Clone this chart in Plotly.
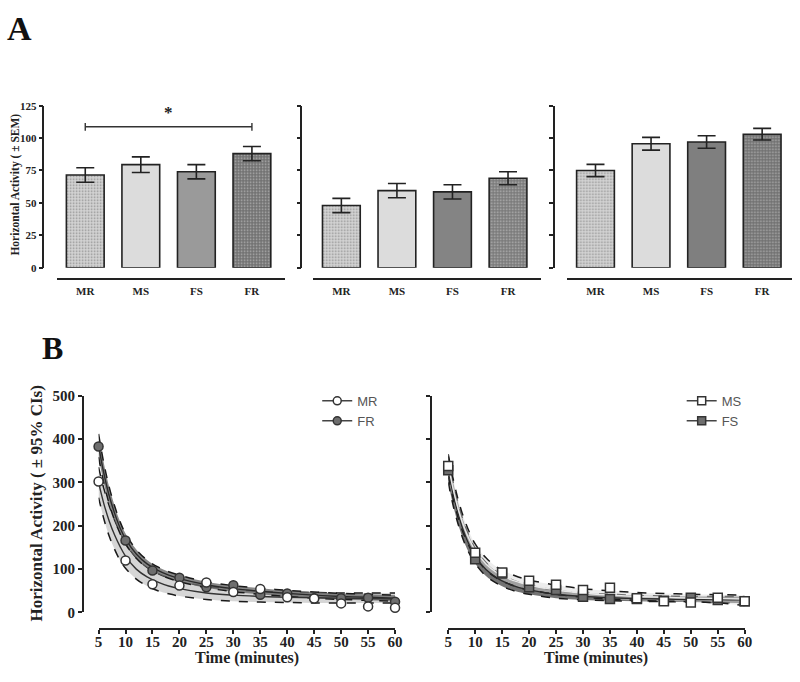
import plotly.graph_objects as go

W, H = 800, 682

# ---------------- data ----------------
groups = ["MR", "MS", "FS", "FR"]

a_left = [71.5, 79.5, 74.0, 88.0]
a_left_sem = [5.6, 6.0, 5.5, 5.5]
a_mid = [48.0, 59.5, 58.5, 69.0]
a_mid_sem = [5.5, 5.5, 5.5, 5.0]
a_right = [75.0, 95.6, 97.0, 103.0]
a_right_sem = [4.7, 4.9, 4.8, 4.5]

time_min = [5, 10, 15, 20, 25, 30, 35, 40, 45, 50, 55, 60]
mr = [302, 120, 65, 62, 69, 47, 54, 35, 32, 21, 14, 11]
fr = [383, 166, 97, 80, 58, 63, 41, 44, 33, 33, 34, 25]
ms = [338, 138, 92, 73, 64, 52, 57, 33, 26, 23, 34, 26]
fs = [328, 123, 90, 58, 52, 36, 31, 31, 27, 34, 29, 26]

fit_t = [5, 6, 7, 8, 9, 10, 12, 14, 16, 18, 20, 25, 30, 35, 40, 45, 50, 55, 60]
mr_fit = [300, 250, 210, 178, 152, 130, 100, 82, 70, 61, 55, 45, 40, 37, 35, 34, 33, 32, 31]
mr_lo = [265, 215, 175, 145, 120, 102, 77, 61, 50, 43, 38, 30, 26, 24, 23, 22, 22, 22, 22]
mr_hi = [335, 285, 245, 212, 185, 160, 126, 104, 90, 80, 72, 60, 53, 49, 47, 46, 45, 45, 45]
fr_fit = [385, 320, 268, 228, 195, 170, 135, 112, 97, 86, 78, 64, 55, 49, 44, 40, 37, 35, 33]
fr_lo = [358, 297, 249, 212, 182, 158, 125, 103, 89, 79, 71, 57, 48, 42, 37, 33, 30, 28, 26]
fr_hi = [412, 343, 288, 245, 209, 182, 145, 121, 105, 94, 86, 71, 62, 56, 51, 47, 44, 42, 40]
ms_fit = [340, 280, 232, 195, 166, 143, 112, 92, 79, 70, 63, 52, 45, 40, 37, 35, 33, 32, 31]
ms_lo = [315, 258, 212, 177, 150, 128, 98, 79, 67, 58, 52, 42, 35, 31, 28, 26, 25, 22, 16]
ms_hi = [365, 303, 253, 214, 183, 158, 126, 105, 92, 82, 75, 63, 55, 50, 46, 44, 42, 41, 40]
fs_fit = [330, 268, 220, 182, 153, 130, 99, 80, 67, 58, 52, 42, 37, 34, 32, 31, 30, 30, 29]
fs_lo = [300, 242, 197, 161, 134, 113, 84, 67, 55, 47, 42, 33, 29, 27, 26, 25, 24, 23, 21]
fs_hi = [360, 295, 244, 204, 173, 148, 115, 94, 80, 70, 63, 51, 45, 42, 39, 38, 37, 37, 37]

a_yticks = [0, 25, 50, 75, 100, 125]
b_yticks = [0, 100, 200, 300, 400, 500]
b_xticks = [5, 10, 15, 20, 25, 30, 35, 40, 45, 50, 55, 60]

# ---------------- helpers ----------------
def px(x):
    return x / W

def py(y):
    return 1 - y / H

SERIF = "Liberation Serif, Times New Roman, serif"
INK = "#222222"

fig = go.Figure()

# ---------------- Panel A ----------------
bar_colors = [
    ["#d3d3d3", "#dcdcdc", "#9a9a9a", "#717171"],
    ["#d3d3d3", "#dcdcdc", "#848484", "#7a7a7a"],
    ["#d3d3d3", "#dcdcdc", "#7f7f7f", "#717171"],
]
dot_colors = ["#c2c2c2", "#dcdcdc", "#9a9a9a", "#636363"]
panels = [(a_left, a_left_sem), (a_mid, a_mid_sem), (a_right, a_right_sem)]
first_center = [82.5, 342.5, 600.5]
spacing = 56.4
yaxis_pos = [40, 302, 558]

for i, ((vals, sem), c0) in enumerate(zip(panels, first_center)):
    n = "" if i == 0 else str(i + 1)
    fig.add_trace(go.Bar(
        x=[0, 1, 2, 3], y=vals, width=0.68,
        xaxis="x" + n, yaxis="y" + n, showlegend=False,
        marker=dict(
            color=bar_colors[i],
            line=dict(color=INK, width=1.6),
            pattern=dict(shape=[".", "", "", "."], fgcolor=dot_colors,
                         bgcolor=bar_colors[i], size=3, solidity=0.25),
        ),
        error_y=dict(type="data", array=sem, visible=True, color=INK,
                     thickness=1.6, width=9),
    ))

# significance bracket MR vs FR on left panel
fig.add_trace(go.Scatter(
    x=[0, 0, None, 0, 3, None, 3, 3],
    y=[105.7, 111.7, None, 108.7, 108.7, None, 105.7, 111.7],
    mode="lines", line=dict(color="#333333", width=1.4),
    xaxis="x", yaxis="y", showlegend=False, hoverinfo="skip",
))
fig.add_annotation(x=1.5, y=120, xref="x", yref="y", text="*", showarrow=False,
                   font=dict(family=SERIF, size=17, color=INK, weight="bold"))

layout_axes = {}
for i, c0 in enumerate(first_center):
    n = "" if i == 0 else str(i + 1)
    left = c0 - 28.5
    right = min(c0 + 3 * spacing + 33.5, 800)
    layout_axes["xaxis" + n] = dict(
        domain=[px(left), px(right)],
        range=[-28.5 / spacing, -28.5 / spacing + (right - left) / spacing],
        anchor="free", position=py(277),
        showline=True, linecolor=INK, linewidth=1.6,
        tickvals=[0, 1, 2, 3], ticktext=groups, ticks="",
        ticklabelstandoff=2,
        tickfont=dict(family=SERIF, size=11, color=INK, weight="bold"),
        showgrid=False, zeroline=False, fixedrange=True,
    )
    layout_axes["yaxis" + n] = dict(
        domain=[py(266), py(100)], range=[0, 125],
        anchor="free", position=px(yaxis_pos[i]),
        showline=True, linecolor=INK, linewidth=1.6,
        tickvals=a_yticks, ticks="outside", ticklen=4, tickwidth=1.6, tickcolor=INK,
        showticklabels=(i == 0),
        tickfont=dict(family=SERIF, size=11, color=INK, weight="bold"),
        showgrid=False, zeroline=False,
    )

# ---------------- Panel B ----------------
def band(t, lo, hi, fillcolor, xa, ya):
    fig.add_trace(go.Scatter(x=t, y=lo, mode="lines", xaxis=xa, yaxis=ya,
                             line=dict(color="#1a1a1a", width=1.5, dash="dash", shape="spline"),
                             showlegend=False, hoverinfo="skip"))
    fig.add_trace(go.Scatter(x=t, y=hi, mode="lines", xaxis=xa, yaxis=ya, fill="tonexty",
                             fillcolor=fillcolor,
                             line=dict(color="#1a1a1a", width=1.5, dash="dash", shape="spline"),
                             showlegend=False, hoverinfo="skip"))

def fitline(t, fit, color, xa, ya):
    fig.add_trace(go.Scatter(x=t, y=fit, mode="lines", xaxis=xa, yaxis=ya,
                             line=dict(color=color, width=1.4, shape="spline"),
                             showlegend=False, hoverinfo="skip"))

def points(t, y, symbol, fill, xa, ya):
    fig.add_trace(go.Scatter(x=t, y=y, mode="markers", xaxis=xa, yaxis=ya, cliponaxis=False,
                             marker=dict(symbol=symbol, size=9, color=fill,
                                         line=dict(color="#333333", width=1.5)),
                             showlegend=False))

def legend_entry(name, symbol, fill, xa, ya, leg):
    fig.add_trace(go.Scatter(x=[None], y=[None], mode="lines+markers", name=name,
                             xaxis=xa, yaxis=ya, legend=leg,
                             line=dict(color="#444444", width=1.5),
                             marker=dict(symbol=symbol, size=8, color=fill,
                                         line=dict(color="#333333", width=1.5))))

# left: MR vs FR
band(fit_t, mr_lo, mr_hi, "rgba(200,200,200,0.75)", "x4", "y4")
band(fit_t, fr_lo, fr_hi, "rgba(105,105,105,0.8)", "x4", "y4")
fitline(fit_t, mr_fit, "#333333", "x4", "y4")
fitline(fit_t, fr_fit, "#2a2a2a", "x4", "y4")
points(time_min, fr, "circle", "#6e6e6e", "x4", "y4")
points(time_min, mr, "circle", "#ffffff", "x4", "y4")
legend_entry("MR", "circle", "#ffffff", "x4", "y4", "legend")
legend_entry("FR", "circle", "#6e6e6e", "x4", "y4", "legend")

# right: MS vs FS
band(fit_t, fs_lo, fs_hi, "rgba(100,100,100,0.9)", "x5", "y5")
band(fit_t, ms_lo, ms_hi, "rgba(215,215,215,0.45)", "x5", "y5")
fitline(fit_t, fs_fit, "#2a2a2a", "x5", "y5")
fitline(fit_t, ms_fit, "#e8e8e8", "x5", "y5")
points(time_min, fs, "square", "#6e6e6e", "x5", "y5")
points(time_min, ms, "square", "#ffffff", "x5", "y5")
legend_entry("MS", "square", "#ffffff", "x5", "y5", "legend2")
legend_entry("FS", "square", "#6e6e6e", "x5", "y5", "legend2")

for k, (x0, x1, yp) in {"4": (96, 397, 80), "5": (451, 752, 433)}.items():
    layout_axes["xaxis" + k] = dict(
        domain=[px(x0), px(x1)], range=[5, 60],
        anchor="free", position=py(636),
        showline=True, linecolor=INK, linewidth=1.8,
        tickvals=b_xticks, ticks="outside", ticklen=4, tickwidth=1.8, tickcolor=INK,
        ticklabelstandoff=-5,
        tickfont=dict(family=SERIF, size=15, color=INK, weight="bold"),
        showgrid=False, zeroline=False,
    )
    layout_axes["yaxis" + k] = dict(
        domain=[py(619), py(397)], range=[0, 500],
        anchor="free", position=px(yp),
        showline=True, linecolor=INK, linewidth=1.8,
        tickvals=b_yticks, ticks="outside", ticklen=4, tickwidth=1.8, tickcolor=INK,
        showticklabels=(k == "4"),
        tickfont=dict(family=SERIF, size=15, color=INK, weight="bold"),
        showgrid=False, zeroline=False,
    )

# ---------------- text ----------------
ann = [
    dict(text="A", x=px(1), y=py(0), xanchor="left", yanchor="top",
         font=dict(family=SERIF, size=34, color="#111", weight="bold")),
    dict(text="B", x=px(37), y=py(328), xanchor="left", yanchor="top",
         font=dict(family=SERIF, size=32, color="#111", weight="bold")),
    dict(text="Horizontal Activity ( ± SEM)", x=px(12), y=py(181), textangle=-90,
         xanchor="center", yanchor="middle",
         font=dict(family=SERIF, size=11.5, color=INK, weight="bold")),
    dict(text="Horizontal Activity ( ± 95% CIs)", x=px(33), y=py(508), textangle=-90,
         xanchor="center", yanchor="middle",
         font=dict(family=SERIF, size=17, color=INK, weight="bold")),
    dict(text="Time (minutes)", x=px(247), y=py(666), xanchor="center", yanchor="middle",
         font=dict(family=SERIF, size=16, color=INK, weight="bold")),
    dict(text="Time (minutes)", x=px(601), y=py(666), xanchor="center", yanchor="middle",
         font=dict(family=SERIF, size=16, color=INK, weight="bold")),
]
for a in ann:
    fig.add_annotation(xref="paper", yref="paper", showarrow=False, **a)

legend_style = dict(xanchor="left", yanchor="top", bgcolor="rgba(0,0,0,0)",
                    traceorder="normal",
                    font=dict(family="Liberation Sans, Arial, sans-serif", size=13, color="#555555"),
                    itemwidth=30, tracegroupgap=0)

fig.update_layout(
    width=W, height=H,
    margin=dict(l=0, r=0, t=0, b=0),
    paper_bgcolor="white", plot_bgcolor="rgba(0,0,0,0)",
    barmode="overlay", showlegend=True,
    legend=dict(x=px(318), y=py(387), **legend_style),
    legend2=dict(x=px(688), y=py(387), **legend_style),
    **layout_axes,
)

post = (
    "document.documentElement.style.margin='0';"
    "document.documentElement.style.overflow='hidden';"
    "document.body.style.margin='0';"
    "document.body.style.overflow='hidden';"
    "var gd=document.querySelector('.plotly-graph-div');"
    "gd.style.position='fixed';gd.style.top='0px';gd.style.left='0px';"
)
fig.write_html("out.html", config={"displayModeBar": False}, post_script=post)
